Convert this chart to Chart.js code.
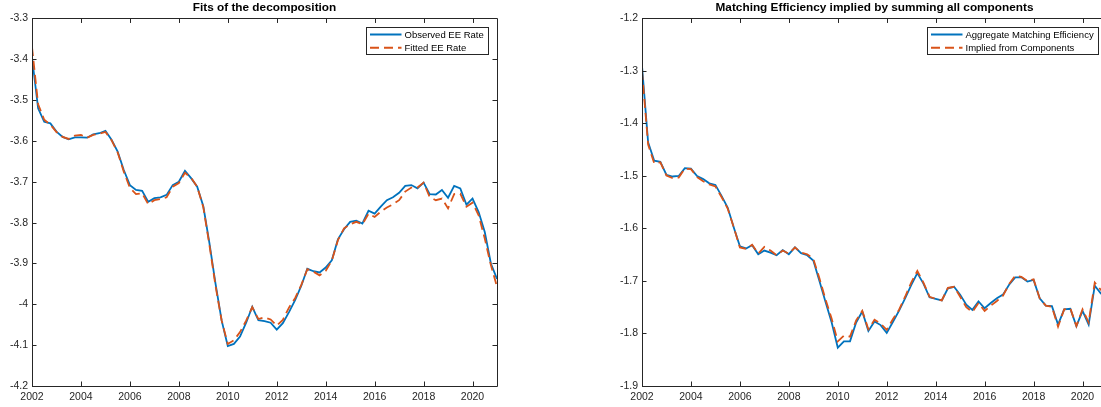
<!DOCTYPE html>
<html>
<head>
<meta charset="utf-8">
<script src="https://cdn.jsdelivr.net/npm/chart.js@4.4.1/dist/chart.umd.min.js"></script>
<style>
  html, body { margin: 0; padding: 0; background: #fff; }
  #wrap { position: relative; width: 1101px; height: 407px; overflow: hidden; background: #fff; }
  #wrap canvas { position: absolute; top: 0; }
  #left { left: 0; }
  #right { left: 610px; }
</style>
</head>
<body>
<div id="wrap">
  <canvas id="left" width="520" height="407"></canvas>
  <canvas id="right" width="520" height="407"></canvas>
</div>
<script>
// Quarterly observations, 2002Q1 through 2021Q1
const quarters = Array.from({ length: 77 }, (_, i) => 2002 + i / 4);
const yearTicks = [2002, 2004, 2006, 2008, 2010, 2012, 2014, 2016, 2018, 2020];
const eeTicks = [-4.2, -4.1, -4.0, -3.9, -3.8, -3.7, -3.6, -3.5, -3.4, -3.3];
const meTicks = [-1.9, -1.8, -1.7, -1.6, -1.5, -1.4, -1.3, -1.2];

// Employer-to-employer rate (log)
const observedEE = [
  -3.395, -3.520, -3.553, -3.557,
  -3.577, -3.590, -3.596, -3.591,
  -3.591, -3.592, -3.584, -3.581,
  -3.575, -3.597, -3.626, -3.671,
  -3.708, -3.720, -3.722, -3.749,
  -3.740, -3.738, -3.732, -3.708,
  -3.700, -3.673, -3.691, -3.712,
  -3.760, -3.850, -3.950, -4.040,
  -4.102, -4.097, -4.079, -4.045,
  -4.006, -4.039, -4.041, -4.045,
  -4.062, -4.046, -4.019, -3.990,
  -3.955, -3.913, -3.919, -3.922,
  -3.910, -3.892, -3.841, -3.816,
  -3.798, -3.795, -3.802, -3.771,
  -3.778, -3.761, -3.745, -3.738,
  -3.727, -3.710, -3.708, -3.716,
  -3.702, -3.730, -3.731, -3.720,
  -3.739, -3.710, -3.716, -3.756,
  -3.741, -3.774, -3.823, -3.900,
  -3.938
];
const fittedEE = [
  -3.370, -3.510, -3.548, -3.560,
  -3.578, -3.590, -3.595, -3.587,
  -3.585, -3.592, -3.585, -3.582,
  -3.578, -3.598, -3.628, -3.675,
  -3.715, -3.730, -3.728, -3.755,
  -3.745, -3.742, -3.738, -3.712,
  -3.703, -3.678, -3.690, -3.712,
  -3.762, -3.855, -3.955, -4.040,
  -4.097, -4.088, -4.068, -4.040,
  -4.007, -4.036, -4.032, -4.037,
  -4.052, -4.038, -4.008, -3.985,
  -3.953, -3.914, -3.920, -3.929,
  -3.918, -3.893, -3.843, -3.814,
  -3.804, -3.798, -3.804, -3.778,
  -3.786, -3.773, -3.763, -3.755,
  -3.745, -3.724, -3.714, -3.714,
  -3.702, -3.737, -3.745, -3.741,
  -3.765, -3.730, -3.729, -3.761,
  -3.751, -3.782, -3.839, -3.904,
  -3.957
];

// Matching efficiency (log)
const aggregateME = [
  -1.290, -1.436, -1.471, -1.473,
  -1.498, -1.501, -1.500, -1.485,
  -1.486, -1.500, -1.506, -1.514,
  -1.517, -1.538, -1.560, -1.598,
  -1.634, -1.638, -1.632, -1.649,
  -1.642, -1.646, -1.651, -1.641,
  -1.649, -1.636, -1.647, -1.651,
  -1.661, -1.700, -1.740, -1.779,
  -1.827, -1.815, -1.815, -1.779,
  -1.758, -1.795, -1.777, -1.784,
  -1.799, -1.778, -1.757, -1.733,
  -1.708, -1.685, -1.705, -1.731,
  -1.734, -1.737, -1.714, -1.711,
  -1.726, -1.745, -1.755, -1.739,
  -1.752, -1.742, -1.733, -1.726,
  -1.707, -1.693, -1.693, -1.701,
  -1.698, -1.733, -1.747, -1.748,
  -1.783, -1.754, -1.753, -1.786,
  -1.757, -1.783, -1.709, -1.724,
  -1.730
];
const impliedME = [
  -1.300, -1.440, -1.476, -1.474,
  -1.499, -1.504, -1.503, -1.486,
  -1.487, -1.502, -1.510, -1.516,
  -1.520, -1.540, -1.562, -1.598,
  -1.636, -1.639, -1.631, -1.648,
  -1.635, -1.642, -1.651, -1.642,
  -1.648, -1.636, -1.646, -1.649,
  -1.658, -1.695, -1.735, -1.772,
  -1.815, -1.804, -1.806, -1.775,
  -1.757, -1.792, -1.774, -1.781,
  -1.793, -1.773, -1.755, -1.730,
  -1.703, -1.681, -1.703, -1.730,
  -1.734, -1.737, -1.713, -1.711,
  -1.730, -1.750, -1.759, -1.742,
  -1.757, -1.747, -1.738, -1.728,
  -1.706, -1.690, -1.692, -1.700,
  -1.697, -1.733, -1.747, -1.749,
  -1.787, -1.754, -1.752, -1.786,
  -1.754, -1.779, -1.703, -1.717,
  -1.725
];

const BLUE = '#0072BD';
const ORANGE = '#D95319';
const AXIS = '#262626';
const FONT = '"Liberation Sans", Arial, Helvetica, sans-serif';

const toPoints = (vals) => vals.map((v, i) => ({ x: quarters[i], y: v }));

// Box around the plot area with inward tick marks on all four sides
const boxTicks = {
  id: 'boxTicks',
  afterDatasetsDraw(chart) {
    const { ctx, chartArea: a, scales: { x, y } } = chart;
    const len = 4.5;
    ctx.save();
    ctx.strokeStyle = AXIS;
    ctx.lineWidth = 1;
    ctx.beginPath();
    x.ticks.forEach(t => {
      const px = Math.round(x.getPixelForValue(t.value)) + 0.5;
      ctx.moveTo(px, a.bottom); ctx.lineTo(px, a.bottom - len);
      ctx.moveTo(px, a.top); ctx.lineTo(px, a.top + len);
    });
    y.ticks.forEach(t => {
      const py = Math.round(y.getPixelForValue(t.value)) + 0.5;
      ctx.moveTo(a.left, py); ctx.lineTo(a.left + len, py);
      ctx.moveTo(a.right, py); ctx.lineTo(a.right - len, py);
    });
    ctx.rect(Math.round(a.left) + 0.5, Math.round(a.top) + 0.5,
             Math.round(a.right - a.left), Math.round(a.bottom - a.top));
    ctx.stroke();
    ctx.restore();
  }
};

// Framed legend in the upper right corner of the plot area
const boxLegend = {
  id: 'boxLegend',
  afterDraw(chart) {
    const { ctx, chartArea: a } = chart;
    const sets = chart.data.datasets;
    ctx.save();
    ctx.font = '9.5px ' + FONT;
    const tw = Math.max(...sets.map(d => ctx.measureText(d.label).width));
    const w = Math.round(38.5 + tw + 4.5);
    const h = 27;
    const right = Math.round(a.right - 9);
    const top = Math.round(a.top + 9);
    const left = right - w;
    ctx.fillStyle = '#fff';
    ctx.fillRect(left, top, w, h);
    ctx.strokeStyle = AXIS;
    ctx.lineWidth = 1;
    ctx.strokeRect(left + 0.5, top + 0.5, w, h);
    sets.forEach((d, i) => {
      const cy = top + 7.5 + i * 13.3;
      ctx.save();
      ctx.strokeStyle = d.borderColor;
      ctx.lineWidth = 2;
      ctx.setLineDash(d.borderDash || []);
      ctx.beginPath();
      ctx.moveTo(left + 4, cy);
      ctx.lineTo(left + 35.5, cy);
      ctx.stroke();
      ctx.restore();
      ctx.fillStyle = '#000';
      ctx.textBaseline = 'middle';
      ctx.textAlign = 'left';
      ctx.fillText(d.label, left + 38.5, cy + 0.5);
    });
    ctx.restore();
  }
};

function makeChart(id, title, labels, series, yMin, yMax, yTicks) {
  const datasets = series.map((vals, i) => ({
    label: labels[i],
    data: toPoints(vals),
    borderColor: i === 0 ? BLUE : ORANGE,
    borderWidth: 1.8,
    borderDash: i === 0 ? [] : [9, 5],
    pointRadius: 0,
    tension: 0,
    fill: false,
    order: i === 0 ? 1 : 0
  }));
  return new Chart(document.getElementById(id), {
    type: 'line',
    data: { datasets },
    options: {
      responsive: false,
      animation: false,
      devicePixelRatio: 1,
      layout: { padding: { left: 0, right: 23, top: 0, bottom: 0 } },
      plugins: {
        legend: { display: false },
        tooltip: { enabled: false },
        title: {
          display: true,
          text: title,
          fullSize: false,
          color: '#000',
          font: { family: FONT, size: 11.8, weight: 'bold', lineHeight: 1.2 },
          padding: { top: 0.5, bottom: 3.8 }
        }
      },
      scales: {
        x: {
          type: 'linear',
          min: 2002,
          max: 2021,
          grid: { display: false, drawTicks: false },
          border: { display: false },
          afterBuildTicks: s => { s.ticks = yearTicks.map(v => ({ value: v })); },
          afterFit: s => { s.height = 21; },
          ticks: {
            color: AXIS,
            font: { family: FONT, size: 10.5 },
            padding: 4.5,
            maxRotation: 0,
            autoSkip: false,
            callback: v => String(v)
          }
        },
        y: {
          type: 'linear',
          min: yMin,
          max: yMax,
          grid: { display: false, drawTicks: false },
          border: { display: false },
          afterBuildTicks: s => { s.ticks = yTicks.map(v => ({ value: v })); },
          afterFit: s => { s.width = 32; },
          ticks: {
            color: AXIS,
            font: { family: FONT, size: 10.5 },
            padding: 4,
            autoSkip: false,
            callback: v => String(Number(v.toFixed(1)))
          }
        }
      }
    },
    plugins: [boxTicks, boxLegend]
  });
}

makeChart('left', 'Fits of the decomposition',
  ['Observed EE Rate', 'Fitted EE Rate'],
  [observedEE, fittedEE], -4.2, -3.3, eeTicks);

makeChart('right', 'Matching Efficiency implied by summing all components',
  ['Aggregate Matching Efficiency', 'Implied from Components'],
  [aggregateME, impliedME], -1.9, -1.2, meTicks);
</script>
</body>
</html>
